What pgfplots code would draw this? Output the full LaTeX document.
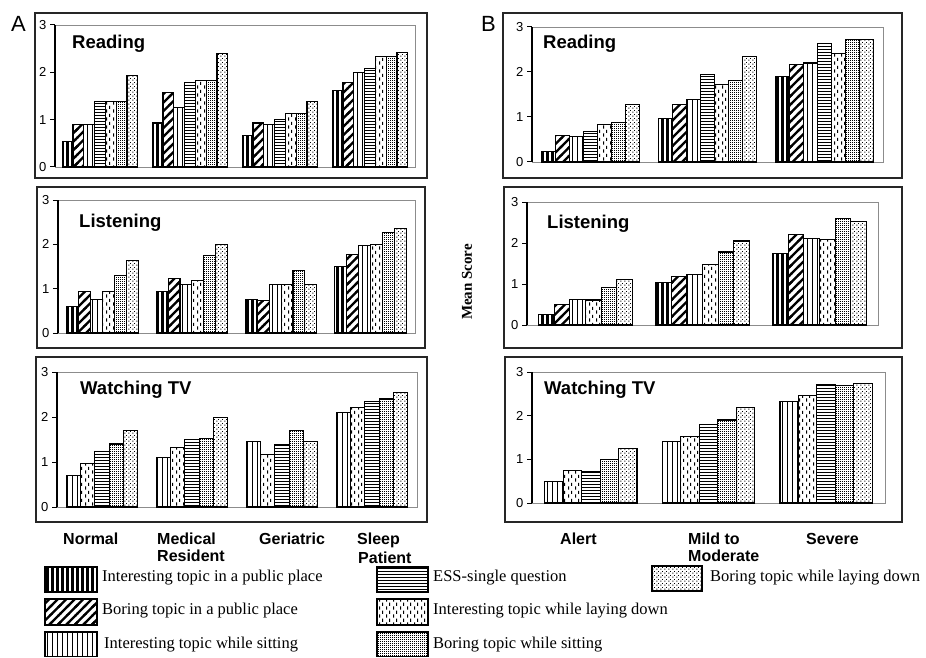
\documentclass[border=0pt]{standalone}
\usepackage{pgfplots}
\pgfplotsset{compat=1.18}
\usepackage{pgfplotstable}
\usetikzlibrary{patterns}
\usepackage{fontspec}
\setmainfont{Liberation Serif}
\setsansfont{Liberation Sans}

\newcommand\tickfont{\sffamily\fontsize{13}{15}\selectfont}
\newcommand\titlefont{\sffamily\bfseries\fontsize{18.5}{20}\selectfont}
\newcommand\catfont{\sffamily\bfseries\fontsize{16}{18}\selectfont}
\newcommand\legfont{\rmfamily\fontsize{16.5}{18}\selectfont}
\newcommand\panfont{\sffamily\fontsize{22}{24}\selectfont}
\newcommand\meanfont{\rmfamily\bfseries\fontsize{15}{17}\selectfont}

% patterns (1pt = 1px of the final image); shapes overlap tile seams
\pgfdeclarepatternformonly{pvthick}{\pgfqpoint{0pt}{-0.4pt}}{\pgfqpoint{5pt}{5.4pt}}{\pgfqpoint{5pt}{5pt}}{%
  \pgfpathrectangle{\pgfqpoint{1.4pt}{-0.4pt}}{\pgfqpoint{2.2pt}{5.8pt}}\pgfusepath{fill}}
\pgfdeclarepatternformonly{pvthin}{\pgfqpoint{0pt}{-0.4pt}}{\pgfqpoint{5pt}{5.4pt}}{\pgfqpoint{5pt}{5pt}}{%
  \pgfpathrectangle{\pgfqpoint{2pt}{-0.4pt}}{\pgfqpoint{1pt}{5.8pt}}\pgfusepath{fill}}
\pgfdeclarepatternformonly{phoriz}{\pgfqpoint{-0.4pt}{0pt}}{\pgfqpoint{3.4pt}{3pt}}{\pgfqpoint{3pt}{3pt}}{%
  \pgfpathrectangle{\pgfqpoint{-0.4pt}{1pt}}{\pgfqpoint{3.8pt}{1.1pt}}\pgfusepath{fill}}
\pgfdeclarepatternformonly{pdash}{\pgfqpoint{0pt}{0pt}}{\pgfqpoint{7pt}{8pt}}{\pgfqpoint{7pt}{8pt}}{%
  \pgfpathrectangle{\pgfqpoint{1.2pt}{0.5pt}}{\pgfqpoint{1.2pt}{3.5pt}}%
  \pgfpathrectangle{\pgfqpoint{4.7pt}{4.5pt}}{\pgfqpoint{1.2pt}{3.5pt}}\pgfusepath{fill}}
\pgfdeclarepatternformonly{pdense}{\pgfqpoint{0pt}{0pt}}{\pgfqpoint{2pt}{2pt}}{\pgfqpoint{2pt}{2pt}}{%
  \pgfpathrectangle{\pgfqpoint{0pt}{0pt}}{\pgfqpoint{1.35pt}{1.35pt}}\pgfusepath{fill}}
\pgfdeclarepatternformonly{psparse}{\pgfqpoint{0pt}{0pt}}{\pgfqpoint{4pt}{4pt}}{\pgfqpoint{4pt}{4pt}}{%
  \pgfpathrectangle{\pgfqpoint{0.5pt}{0.5pt}}{\pgfqpoint{1.1pt}{1.1pt}}%
  \pgfpathrectangle{\pgfqpoint{2.5pt}{2.5pt}}{\pgfqpoint{1.1pt}{1.1pt}}\pgfusepath{fill}}
\pgfdeclarepatternformonly{pdiag}{\pgfqpoint{-0.4pt}{-0.4pt}}{\pgfqpoint{8.9pt}{8.9pt}}{\pgfqpoint{8.5pt}{8.5pt}}{%
  \pgfsetlinewidth{2.4pt}%
  \pgfpathmoveto{\pgfqpoint{-1.5pt}{-1.5pt}}\pgfpathlineto{\pgfqpoint{10pt}{10pt}}%
  \pgfpathmoveto{\pgfqpoint{-1.5pt}{7pt}}\pgfpathlineto{\pgfqpoint{1.5pt}{10pt}}%
  \pgfpathmoveto{\pgfqpoint{7pt}{-1.5pt}}\pgfpathlineto{\pgfqpoint{10pt}{1.5pt}}%
  \pgfusepath{stroke}}

\pgfplotsset{
  panel/.style={
    scale only axis, anchor=south west,
    ybar, ymin=0, ymax=3, ytick={0,1,2,3}, xtick=\empty,
    axis line style={draw=black!45, line width=0.9pt},
    ytick style={draw=black, line width=1pt},
    tick align=outside, ytick pos=left, major tick length=5pt,
    yticklabel style={font=\tickfont},
    /pgf/number format/assume math mode=true,
    clip=false,
  },
  bb/.style={draw=black, line width=1.1pt},
  bIP/.style={bb, pattern=pvthick},
  bBP/.style={bb, pattern=pdiag},
  bIS/.style={bb, pattern=pvthin},
  bESS/.style={bb, pattern=phoriz},
  bIL/.style={bb, pattern=pdash},
  bBS/.style={bb, pattern=pdense},
  bBL/.style={bb, pattern=psparse},
}

% Panel A: Normal, Medical Resident, Geriatric, Sleep Patient
\pgfplotstableread{
x IP BP IS ESS IL BS BL
0 0.53 0.90 0.90 1.38 1.38 1.38 1.93
1 0.93 1.57 1.25 1.79 1.83 1.83 2.40
2 0.67 0.93 0.90 1.01 1.13 1.13 1.38
3 1.61 1.79 1.99 2.08 2.33 2.33 2.42
}\ARead
\pgfplotstableread{
x IP BP IS IL BS BL
0 0.59 0.94 0.75 0.94 1.30 1.63
1 0.94 1.22 1.09 1.18 1.75 2.00
2 0.75 0.73 1.09 1.09 1.40 1.09
3 1.50 1.78 1.97 2.00 2.27 2.35
}\AListen
\pgfplotstableread{
x IS IL ESS BS BL
0 0.71 0.97 1.23 1.40 1.70
1 1.10 1.32 1.50 1.52 1.98
2 1.46 1.16 1.38 1.70 1.46
3 2.10 2.22 2.34 2.40 2.55
}\ATV
% Panel B: Alert, Mild to Moderate, Severe
\pgfplotstableread{
x IP BP IS ESS IL BS BL
0 0.24 0.59 0.56 0.68 0.84 0.87 1.28
1 0.96 1.28 1.39 1.95 1.73 1.81 2.35
2 1.90 2.16 2.20 2.63 2.41 2.72 2.72
}\BRead
\pgfplotstableread{
x IP BP IS IL BS BL
0 0.26 0.51 0.63 0.61 0.91 1.11
1 1.04 1.18 1.24 1.48 1.78 2.05
2 1.74 2.21 2.12 2.08 2.59 2.53
}\BListen
\pgfplotstableread{
x IS IL ESS BS BL
0 0.49 0.74 0.73 1.00 1.25
1 1.40 1.53 1.79 1.90 2.19
2 2.32 2.47 2.72 2.70 2.74
}\BTV

\begin{document}
\begin{tikzpicture}[x=1pt,y=1pt]
\useasboundingbox (0,0) rectangle (926,657);
\fill[white] (0,0) rectangle (926,657);

% outer panel frames
\begin{scope}[draw=black!85, line width=1.6pt]
\draw (35,479) rectangle (427,644);
\draw (37,309) rectangle (425,470);
\draw (36,135) rectangle (427,300);
\draw (503,479) rectangle (902,644);
\draw (504,309) rectangle (902,470);
\draw (505,135) rectangle (902,300);
\end{scope}

% ---------- A Reading ----------
\begin{axis}[panel, at={(55pt,490pt)}, width=360pt, height=142pt, xmin=-0.5, xmax=3.5]
\addplot[bIP, bar width=0.12, bar shift=-0.36] table[x=x,y=IP]{\ARead};
\addplot[bBP, bar width=0.12, bar shift=-0.24] table[x=x,y=BP]{\ARead};
\addplot[bIS, bar width=0.12, bar shift=-0.12] table[x=x,y=IS]{\ARead};
\addplot[bESS, bar width=0.12, bar shift=0] table[x=x,y=ESS]{\ARead};
\addplot[bIL, bar width=0.12, bar shift=0.12] table[x=x,y=IL]{\ARead};
\addplot[bBS, bar width=0.12, bar shift=0.24] table[x=x,y=BS]{\ARead};
\addplot[bBL, bar width=0.12, bar shift=0.36] table[x=x,y=BL]{\ARead};
\draw[black, line width=1.2pt] (rel axis cs:0,0) -- (rel axis cs:0,1);
\end{axis}

% ---------- A Listening ----------
\begin{axis}[panel, at={(58pt,324pt)}, width=357pt, height=133pt, xmin=-0.5, xmax=3.5]
\addplot[bIP, bar width=0.1333, bar shift=-0.3333] table[x=x,y=IP]{\AListen};
\addplot[bBP, bar width=0.1333, bar shift=-0.2] table[x=x,y=BP]{\AListen};
\addplot[bIS, bar width=0.1333, bar shift=-0.0667] table[x=x,y=IS]{\AListen};
\addplot[bIL, bar width=0.1333, bar shift=0.0667] table[x=x,y=IL]{\AListen};
\addplot[bBS, bar width=0.1333, bar shift=0.2] table[x=x,y=BS]{\AListen};
\addplot[bBL, bar width=0.1333, bar shift=0.3333] table[x=x,y=BL]{\AListen};
\draw[black, line width=1.2pt] (rel axis cs:0,0) -- (rel axis cs:0,1);
\end{axis}

% ---------- A Watching TV ----------
\begin{axis}[panel, at={(57pt,150pt)}, width=360pt, height=135pt, xmin=-0.5, xmax=3.5]
\addplot[bIS, bar width=0.157, bar shift=-0.314] table[x=x,y=IS]{\ATV};
\addplot[bIL, bar width=0.157, bar shift=-0.157] table[x=x,y=IL]{\ATV};
\addplot[bESS, bar width=0.157, bar shift=0] table[x=x,y=ESS]{\ATV};
\addplot[bBS, bar width=0.157, bar shift=0.157] table[x=x,y=BS]{\ATV};
\addplot[bBL, bar width=0.157, bar shift=0.314] table[x=x,y=BL]{\ATV};
\draw[black, line width=1.2pt] (rel axis cs:0,0) -- (rel axis cs:0,1);
\end{axis}

% ---------- B Reading ----------
\begin{axis}[panel, at={(532pt,495pt)}, width=351pt, height=135pt, xmin=-0.5, xmax=2.5]
\addplot[bIP, bar width=0.12, bar shift=-0.36] table[x=x,y=IP]{\BRead};
\addplot[bBP, bar width=0.12, bar shift=-0.24] table[x=x,y=BP]{\BRead};
\addplot[bIS, bar width=0.12, bar shift=-0.12] table[x=x,y=IS]{\BRead};
\addplot[bESS, bar width=0.12, bar shift=0] table[x=x,y=ESS]{\BRead};
\addplot[bIL, bar width=0.12, bar shift=0.12] table[x=x,y=IL]{\BRead};
\addplot[bBS, bar width=0.12, bar shift=0.24] table[x=x,y=BS]{\BRead};
\addplot[bBL, bar width=0.12, bar shift=0.36] table[x=x,y=BL]{\BRead};
\draw[black, line width=1.2pt] (rel axis cs:0,0) -- (rel axis cs:0,1);
\end{axis}

% ---------- B Listening ----------
\begin{axis}[panel, at={(527pt,332pt)}, width=351pt, height=123pt, xmin=-0.5, xmax=2.5]
\addplot[bIP, bar width=0.1333, bar shift=-0.3333] table[x=x,y=IP]{\BListen};
\addplot[bBP, bar width=0.1333, bar shift=-0.2] table[x=x,y=BP]{\BListen};
\addplot[bIS, bar width=0.1333, bar shift=-0.0667] table[x=x,y=IS]{\BListen};
\addplot[bIL, bar width=0.1333, bar shift=0.0667] table[x=x,y=IL]{\BListen};
\addplot[bBS, bar width=0.1333, bar shift=0.2] table[x=x,y=BS]{\BListen};
\addplot[bBL, bar width=0.1333, bar shift=0.3333] table[x=x,y=BL]{\BListen};
\draw[black, line width=1.2pt] (rel axis cs:0,0) -- (rel axis cs:0,1);
\end{axis}

% ---------- B Watching TV ----------
\begin{axis}[panel, at={(532pt,154pt)}, width=353pt, height=131pt, xmin=-0.5, xmax=2.5]
\addplot[bIS, bar width=0.157, bar shift=-0.314] table[x=x,y=IS]{\BTV};
\addplot[bIL, bar width=0.157, bar shift=-0.157] table[x=x,y=IL]{\BTV};
\addplot[bESS, bar width=0.157, bar shift=0] table[x=x,y=ESS]{\BTV};
\addplot[bBS, bar width=0.157, bar shift=0.157] table[x=x,y=BS]{\BTV};
\addplot[bBL, bar width=0.157, bar shift=0.314] table[x=x,y=BL]{\BTV};
\draw[black, line width=1.2pt] (rel axis cs:0,0) -- (rel axis cs:0,1);
\end{axis}

% panel letters and titles
\node[anchor=base west, inner sep=0, font=\panfont] at (11,625.3) {A};
\node[anchor=base west, inner sep=0, font=\panfont] at (481,625.3) {B};
\node[anchor=base west, inner sep=0, font=\titlefont] at (72,608.7) {Reading};
\node[anchor=base west, inner sep=0, font=\titlefont] at (79,429.7) {Listening};
\node[anchor=base west, inner sep=0, font=\titlefont] at (80,263) {Watching TV};
\node[anchor=base west, inner sep=0, font=\titlefont] at (543,608.7) {Reading};
\node[anchor=base west, inner sep=0, font=\titlefont] at (547,428.7) {Listening};
\node[anchor=base west, inner sep=0, font=\titlefont] at (544,263) {Watching TV};

% y label
\node[rotate=90, font=\meanfont] at (467,375) {Mean Score};

% category labels
\begin{scope}[every node/.style={anchor=base west, inner sep=0, font=\catfont}]
\node at (63,113) {Normal};
\node at (157,113) {Medical};
\node at (157,95.3) {Resident};
\node at (259,113) {Geriatric};
\node at (357,113) {Sleep};
\node at (358,93.7) {Patient};
\node at (560,113) {Alert};
\node at (688,113) {Mild to};
\node at (688,95.3) {Moderate};
\node at (806,113) {Severe};
\end{scope}

% legend
\begin{scope}[line width=1.3pt]
\draw[pattern=pvthick] (45,65) rectangle (97,90);
\draw[pattern=pdiag] (45,32) rectangle (97,58);
\draw[pattern=pvthin] (45,0.8) rectangle (97,25);
\draw[pattern=phoriz] (377,65) rectangle (428,90);
\draw[pattern=pdash] (377,32) rectangle (428,58);
\draw[pattern=pdense] (377,0.8) rectangle (428,25);
\draw[pattern=psparse] (652,66) rectangle (702,91);
\end{scope}
\begin{scope}[every node/.style={anchor=base west, inner sep=0, font=\legfont}]
\node at (102,75.3) {Interesting topic in a public place};
\node at (102,42.7) {Boring topic in a public place};
\node at (104,8.7) {Interesting topic while sitting};
\node at (433,75.3) {ESS-single question};
\node at (433,42.7) {Interesting topic while laying down};
\node at (433,8.7) {Boring topic while sitting};
\node at (710,75.3) {Boring topic while laying down};
\end{scope}
\end{tikzpicture}
\end{document}
